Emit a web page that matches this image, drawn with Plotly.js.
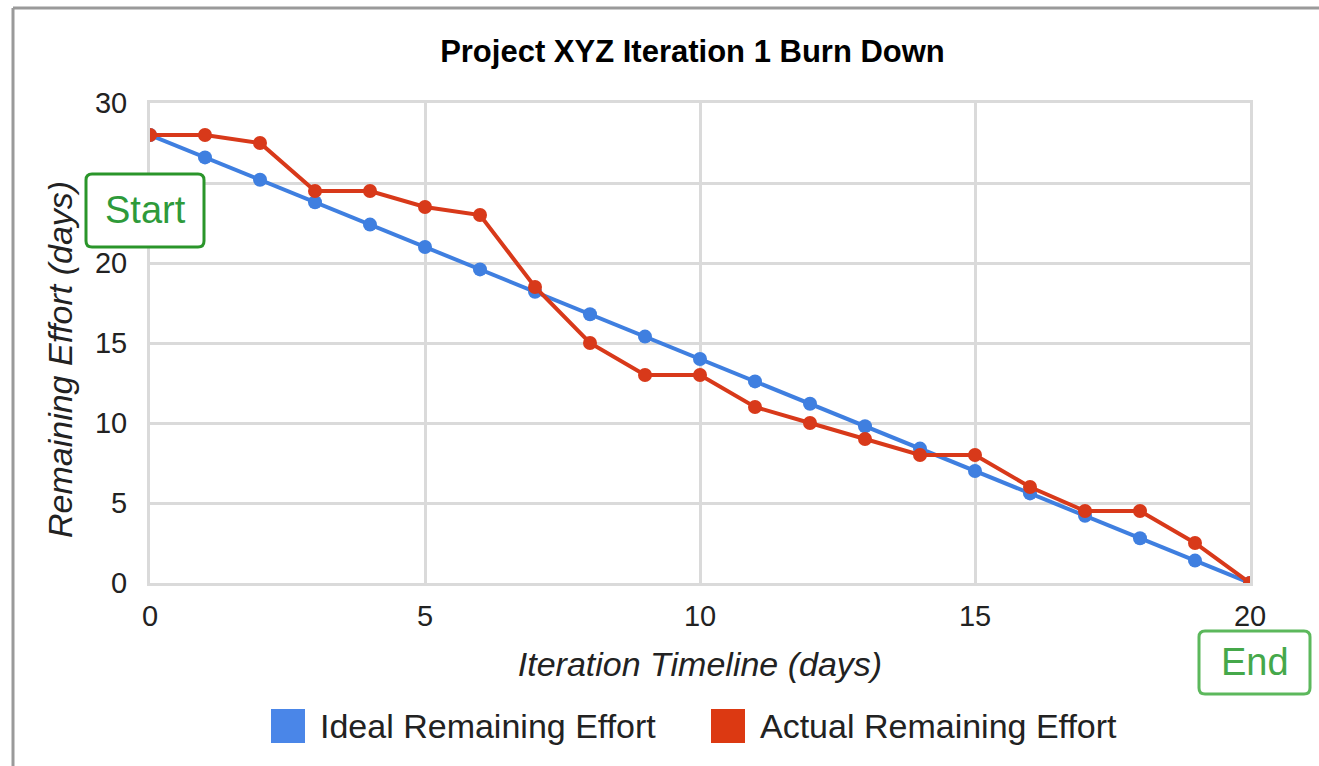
<!DOCTYPE html>
<html>
<head>
<meta charset="utf-8">
<script src="https://cdn.plot.ly/plotly-3.0.1.min.js"></script>
<style>html,body{margin:0;padding:0;background:#fff;}#chart{width:1319px;height:766px;}</style>
</head>
<body>
<div id="chart"></div>
<script>
var days = [0,1,2,3,4,5,6,7,8,9,10,11,12,13,14,15,16,17,18,19,20];
var idealRemaining = [28,26.6,25.2,23.8,22.4,21,19.6,18.2,16.8,15.4,14,12.6,11.2,9.8,8.4,7,5.6,4.2,2.8,1.4,0];
var actualRemaining = [28,28,27.5,24.5,24.5,23.5,23,18.5,15,13,13,11,10,9,8,8,6,4.5,4.5,2.5,0];
var seriesNames = ["Ideal Remaining Effort", "Actual Remaining Effort"];
var xTicks = [0,5,10,15,20];
var yTicks = [0,5,10,15,20,25,30];
var chartTitle = "Project XYZ Iteration 1 Burn Down";
var xTitle = "Iteration Timeline (days)";
var yTitle = "Remaining Effort (days)";
var markerLabels = ["Start", "End"];

var blue = "#3f7fe0", red = "#d8391a";
var legendBlue = "#4a86e8", legendRed = "#dc3912";
var font = "Liberation Sans, Arial, sans-serif";

var traces = [
  {x: days, y: idealRemaining, name: seriesNames[0], mode: "lines+markers",
   line: {color: blue, width: 4}, marker: {color: blue, size: 14}, showlegend: false},
  {x: days, y: actualRemaining, name: seriesNames[1], mode: "lines+markers",
   line: {color: red, width: 4}, marker: {color: red, size: 14}, showlegend: false}
];

// paper conversions: plot area x 150..1250, y 103..583
function px(x){ return (x-150)/1100; }
function py(y){ return (583-y)/480; }

function roundedRect(x0, y0, x1, y1, r){
  var X0 = px(x0), X1 = px(x1), Y0 = py(y0), Y1 = py(y1);
  var rx = r/1100, ry = r/480;
  return "M" + (X0+rx) + "," + Y0 + " L" + (X1-rx) + "," + Y0 + " Q" + X1 + "," + Y0 + " " + X1 + "," + (Y0-ry) +
    " L" + X1 + "," + (Y1+ry) + " Q" + X1 + "," + Y1 + " " + (X1-rx) + "," + Y1 +
    " L" + (X0+rx) + "," + Y1 + " Q" + X0 + "," + Y1 + " " + X0 + "," + (Y1+ry) +
    " L" + X0 + "," + (Y0-ry) + " Q" + X0 + "," + Y0 + " " + (X0+rx) + "," + Y0 + " Z";
}

var shapes = [
  {type:"line", xref:"paper", yref:"paper", x0:px(13), x1:px(1319), y0:py(8), y1:py(8), line:{color:"#9a9a9a", width:3}},
  {type:"line", xref:"paper", yref:"paper", x0:px(13), x1:px(13), y0:py(8), y1:py(766), line:{color:"#9a9a9a", width:3}},
  {type:"rect", xref:"paper", yref:"paper", x0:px(271), x1:px(305), y0:py(743), y1:py(709), fillcolor:legendBlue, line:{width:0}},
  {type:"rect", xref:"paper", yref:"paper", x0:px(711), x1:px(745), y0:py(743), y1:py(709), fillcolor:legendRed, line:{width:0}},
  {type:"path", xref:"paper", yref:"paper", path: roundedRect(86, 174, 204, 247, 6), fillcolor:"#ffffff", line:{color:"#2a952a", width:3}, layer:"above"},
  {type:"path", xref:"paper", yref:"paper", path: roundedRect(1199, 631, 1310, 694, 6), fillcolor:"#ffffff", line:{color:"#5cb85c", width:3}, layer:"above"}
];

var annotations = [
  {xref:"paper", yref:"paper", x:px(318), y:py(726), xanchor:"left", yanchor:"middle", showarrow:false,
   text: seriesNames[0], font:{family:font, size:34, color:"#222"}},
  {xref:"paper", yref:"paper", x:px(758), y:py(726), xanchor:"left", yanchor:"middle", showarrow:false,
   text: seriesNames[1], font:{family:font, size:34, color:"#222"}},
  {xref:"paper", yref:"paper", x:px(145), y:py(210), xanchor:"center", yanchor:"middle", showarrow:false,
   text: markerLabels[0], font:{family:font, size:38, color:"#2e9a3a"}},
  {xref:"paper", yref:"paper", x:px(1254.5), y:py(662), xanchor:"center", yanchor:"middle", showarrow:false,
   text: markerLabels[1], font:{family:font, size:38, color:"#45a84a"}},
  {xref:"paper", yref:"paper", x:px(60), y:py(360), xanchor:"center", yanchor:"middle", showarrow:false, textangle:-90,
   text: yTitle, font:{family:font, size:34, color:"#222", style:"italic"}}
];

var layout = {
  width: 1319, height: 766,
  margin: {l:150, r:69, t:103, b:183},
  paper_bgcolor: "#ffffff", plot_bgcolor: "#ffffff",
  title: {text: "<b>" + chartTitle + "</b>", x: 0.525, xanchor: "center", y: 1 - 51/766, yanchor: "middle",
          font: {family: font, size: 31, color: "#000"}},
  showlegend: false,
  xaxis: {range:[0,20], tickvals: xTicks, ticktext: xTicks.map(String), showgrid:true, gridcolor:"#dadada", gridwidth:3,
          zeroline:false, showline:true, mirror:true, linecolor:"#dadada", linewidth:3,
          tickfont:{family:font, size:29, color:"#222"}, ticklabelstandoff: 5,
          title:{text: xTitle, font:{family:font, size:34, color:"#222", style:"italic"}, standoff: 22}, fixedrange:true},
  yaxis: {range:[0,30], tickvals: yTicks, ticktext: yTicks.map(String), showgrid:true, gridcolor:"#dadada", gridwidth:3,
          zeroline:false, showline:true, mirror:true, linecolor:"#dadada", linewidth:3,
          tickfont:{family:font, size:29, color:"#222"}, ticklabelstandoff: 14, fixedrange:true},
  shapes: shapes,
  annotations: annotations
};

Plotly.newPlot("chart", traces, layout, {displayModeBar:false, staticPlot:true});
</script>
</body>
</html>
